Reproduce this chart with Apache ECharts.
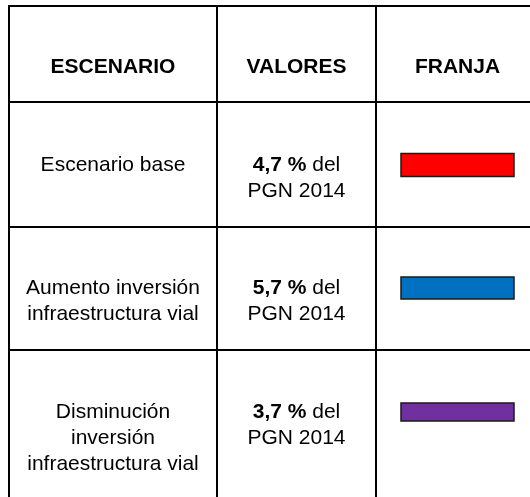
<!DOCTYPE html>
<html>
<head>
<meta charset="utf-8">
<script src="https://cdn.jsdelivr.net/npm/echarts@6/dist/echarts.min.js"></script>
<style>
  html, body { margin: 0; padding: 0; background: #fff; }
  #chart { width: 530px; height: 497px; }
</style>
</head>
<body>
<div id="chart"></div>
<script>
const headers = ['ESCENARIO', 'VALORES', 'FRANJA']
const scenarios = ['Escenario base', 'Aumento inversión\ninfraestructura vial', 'Disminución\ninversión\ninfraestructura vial']
const values = [4.7, 5.7, 3.7]
const valueSuffix = 'del'
const valueBase = 'PGN 2014'
const bandColors = ['#ff0000', '#0070c0', '#7030a0']

// table layout (px)
const colEdges = [9, 217, 376, 539]
const rowEdges = [6, 102, 227, 350, 530]
const headerY = 67
const firstLineY = [165, 288, 412]
const bandHeights = [23, 22, 18]
const bandWidth = 113
const lineH = 26
const font = '"Liberation Sans", Arial, sans-serif'
const fontSize = 21

const chart = echarts.init(document.getElementById('chart'))

const colCenter = i => (colEdges[i] + colEdges[i + 1]) / 2
const fmt = v => v.toFixed(1).replace('.', ',') + ' %'

const elements = []

// grid lines
rowEdges.slice(0, 4).forEach(y => {
  elements.push({
    type: 'line',
    shape: { x1: colEdges[0] - 1, y1: y, x2: colEdges[3], y2: y },
    style: { stroke: '#000', lineWidth: 2 }
  })
})
colEdges.forEach(x => {
  elements.push({
    type: 'line',
    shape: { x1: x, y1: rowEdges[0] - 1, x2: x, y2: rowEdges[4] },
    style: { stroke: '#000', lineWidth: 2 }
  })
})

// header
headers.forEach((h, i) => {
  elements.push({
    type: 'text',
    style: {
      text: h, x: colCenter(i), y: headerY,
      align: 'center', verticalAlign: 'middle',
      fontSize: fontSize, fontFamily: font, fontWeight: 'bold', fill: '#000'
    }
  })
})

// rows
scenarios.forEach((name, r) => {
  const top = firstLineY[r] - lineH / 2
  elements.push({
    type: 'text',
    style: {
      text: name, x: colCenter(0), y: top,
      align: 'center', verticalAlign: 'top',
      fontSize: fontSize, fontFamily: font, lineHeight: lineH, fill: '#000'
    }
  })
  elements.push({
    type: 'text',
    style: {
      text: '{b|' + fmt(values[r]) + '} ' + valueSuffix + '\n' + valueBase,
      x: colCenter(1), y: top,
      align: 'center', verticalAlign: 'top',
      fontSize: fontSize, fontFamily: font, lineHeight: lineH, fill: '#000',
      rich: {
        b: { fontWeight: 'bold', fontSize: fontSize, fontFamily: font, lineHeight: lineH, fill: '#000' }
      }
    }
  })
  const bh = bandHeights[r]
  elements.push({
    type: 'rect',
    shape: { x: colCenter(2) - bandWidth / 2, y: firstLineY[r] - bh / 2, width: bandWidth, height: bh },
    style: { fill: bandColors[r], stroke: '#1a1a1a', lineWidth: 1.5 }
  })
})

chart.setOption({
  backgroundColor: '#fff',
  animation: false,
  graphic: { elements: elements }
})

window.addEventListener('resize', () => chart.resize())
</script>
</body>
</html>
